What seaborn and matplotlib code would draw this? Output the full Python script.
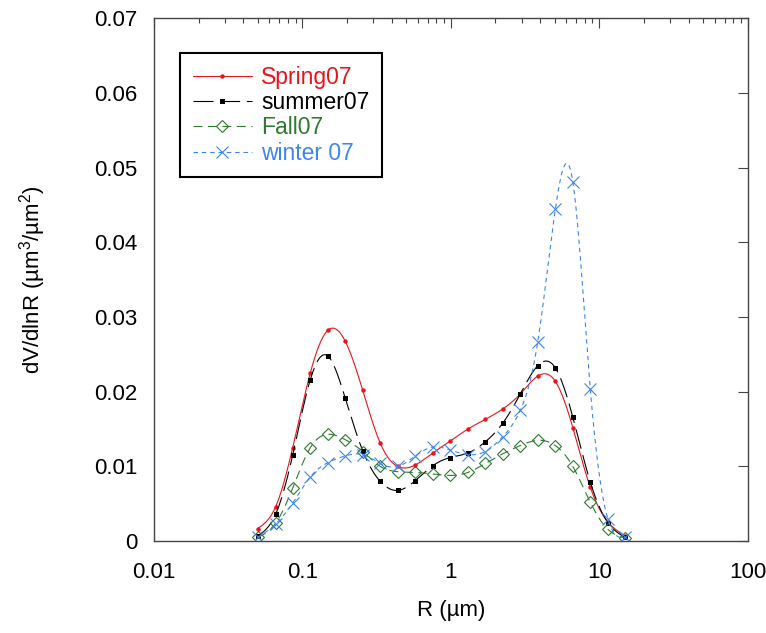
import numpy as np
import pandas as pd
import seaborn as sns
import matplotlib
matplotlib.use('Agg')
import matplotlib.pyplot as plt
from matplotlib.lines import Line2D
from matplotlib.ticker import FuncFormatter, FixedLocator

# radius bins (um)
radius = [0.050, 0.066, 0.086, 0.113, 0.148, 0.194, 0.255, 0.335, 0.439, 0.576, 0.756,
          0.992, 1.302, 1.708, 2.241, 2.940, 3.857, 5.061, 6.641, 8.713, 11.432, 15.000]

spring07 = [0.0017, 0.0046, 0.0125, 0.0225, 0.0282, 0.0268, 0.0202, 0.0131, 0.0100, 0.0102, 0.0118,
            0.0134, 0.0150, 0.0163, 0.0177, 0.0197, 0.0221, 0.0214, 0.0152, 0.0072, 0.0026, 0.0007]
summer07 = [0.0007, 0.0036, 0.0115, 0.0216, 0.0248, 0.0192, 0.0121, 0.0080, 0.0068, 0.0081, 0.0101,
            0.0112, 0.0118, 0.0133, 0.0158, 0.0197, 0.0235, 0.0232, 0.0166, 0.0079, 0.0025, 0.0005]
fall07 = [0.0005, 0.0024, 0.0071, 0.0125, 0.0143, 0.0136, 0.0120, 0.0100, 0.0093, 0.0092, 0.0090,
          0.0088, 0.0092, 0.0104, 0.0117, 0.0128, 0.0135, 0.0128, 0.0100, 0.0052, 0.0016, 0.0004]
winter07 = [0.0005, 0.0023, 0.0051, 0.0086, 0.0105, 0.0114, 0.0116, 0.0104, 0.0100, 0.0114, 0.0126,
            0.0122, 0.0116, 0.0120, 0.0140, 0.0175, 0.0267, 0.0444, 0.0481, 0.0203, 0.0030, 0.0005]

series_names = ['Spring07', 'summer07', 'Fall07', 'winter 07']
x_ticks = [0.01, 0.1, 1, 10, 100]
y_ticks = [0, 0.01, 0.02, 0.03, 0.04, 0.05, 0.06, 0.07]


def smooth_curve(x, y, n=600):
    # natural cubic spline in log(x), only used to draw the connecting line
    t = np.log10(np.asarray(x, float))
    y = np.asarray(y, float)
    k = len(t)
    h = np.diff(t)
    A = np.zeros((k, k))
    b = np.zeros(k)
    A[0, 0] = A[-1, -1] = 1
    for i in range(1, k - 1):
        A[i, i - 1] = h[i - 1]
        A[i, i] = 2 * (h[i - 1] + h[i])
        A[i, i + 1] = h[i]
        b[i] = 6 * ((y[i + 1] - y[i]) / h[i] - (y[i] - y[i - 1]) / h[i - 1])
    M = np.linalg.solve(A, b)
    tt = np.linspace(t[0], t[-1], n)
    idx = np.clip(np.searchsorted(t, tt) - 1, 0, k - 2)
    t0, t1 = t[idx], t[idx + 1]
    hh = t1 - t0
    a = (t1 - tt) / hh
    c = (tt - t0) / hh
    yy = (a * y[idx] + c * y[idx + 1]
          + ((a ** 3 - a) * M[idx] + (c ** 3 - c) * M[idx + 1]) * hh ** 2 / 6)
    return 10 ** tt, yy


sns.set_theme(style='white')
plt.rcParams['font.family'] = ['Liberation Sans', 'DejaVu Sans']
plt.rcParams['mathtext.fontset'] = 'custom'
plt.rcParams['mathtext.rm'] = 'Liberation Sans'
plt.rcParams['mathtext.it'] = 'Liberation Sans'
plt.rcParams['text.color'] = 'black'
plt.rcParams['axes.labelcolor'] = 'black'
plt.rcParams['xtick.color'] = 'black'
plt.rcParams['ytick.color'] = 'black'

fig = plt.figure(figsize=(7.66, 6.33), dpi=100)
ax = fig.add_axes([0.201, 0.145, 0.775, 0.8265])

styles = {
    'Spring07': dict(color='#e8141c', ls='-', marker='o', ms=3.2, mfc='#e8141c', mew=0),
    'summer07': dict(color='#000000', ls=(0, (18, 6)), marker='s', ms=3.6, mfc='#000000', mew=0),
    'Fall07': dict(color='#2f7a2f', ls=(0, (8, 5)), marker='D', ms=6.5, mfc='none', mew=0.8),
    'winter 07': dict(color='#3d85f0', ls=(0, (4, 3.5)), marker='x', ms=9, mfc='none', mew=0.8),
}
values = {'Spring07': spring07, 'summer07': summer07, 'Fall07': fall07, 'winter 07': winter07}

handles = []
for name in series_names:
    st = styles[name]
    xs, ys = smooth_curve(radius, values[name])
    sns.lineplot(x=xs, y=ys, color=st['color'], linestyle=st['ls'], linewidth=0.8,
                 estimator=None, sort=False, ax=ax)
    pts = pd.DataFrame({'R': radius, 'v': values[name]})
    sns.lineplot(data=pts, x='R', y='v', linestyle='', marker=st['marker'],
                 markersize=st['ms'], markerfacecolor=st['mfc'],
                 markeredgecolor=st['color'], markeredgewidth=st['mew'],
                 estimator=None, sort=False, ax=ax)
    handles.append(Line2D([], [], color=st['color'], linestyle=st['ls'], linewidth=0.8,
                          marker=st['marker'], markersize=st['ms'], markerfacecolor=st['mfc'],
                          markeredgecolor=st['color'], markeredgewidth=st['mew']))

ax.set_xscale('log')
ax.set_xlim(0.01, 100)
ax.set_ylim(0, 0.07)
ax.xaxis.set_major_locator(FixedLocator(x_ticks))
ax.xaxis.set_major_formatter(FuncFormatter(lambda v, p: f'{v:g}'))
ax.yaxis.set_major_locator(FixedLocator(y_ticks))
ax.yaxis.set_major_formatter(FuncFormatter(lambda v, p: '0' if v == 0 else f'{v:.2f}'))

for sp in ax.spines.values():
    sp.set_color('#444444')
    sp.set_linewidth(1.0)
    sp.set_visible(True)

ax.tick_params(axis='both', which='both', direction='in', top=True, right=True,
               color='#444444', width=0.8)
ax.tick_params(axis='both', which='major', length=7, labelsize=16)
ax.tick_params(axis='x', which='minor', length=3.5)
ax.tick_params(axis='x', which='major', pad=15)
ax.tick_params(axis='y', which='major', pad=12)
ax.tick_params(axis='y', which='minor', left=False, right=False)

ax.set_xlabel('R (µm)', fontsize=16, labelpad=12)
ax.set_ylabel('dV/dlnR (µm$^3$/µm$^2$)', fontsize=16, labelpad=33)

leg = ax.legend(handles, series_names, loc='upper left', bbox_to_anchor=(0.044, 0.933),
                borderaxespad=0, fontsize=16.5, handlelength=2.6, handletextpad=0.4,
                labelspacing=0.1, borderpad=0.55, fancybox=False, framealpha=1,
                edgecolor='black', numpoints=1)
leg.get_frame().set_linewidth(1.5)
for txt, name in zip(leg.get_texts(), series_names):
    txt.set_color(styles[name]['color'])

fig.savefig('out.png', dpi=100)
